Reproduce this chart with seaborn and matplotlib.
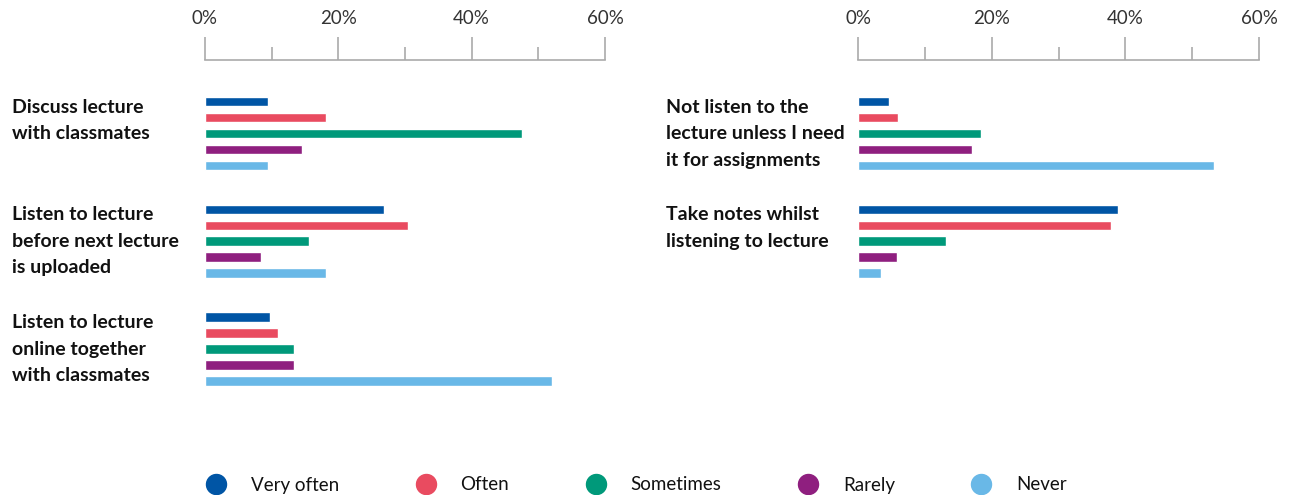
import matplotlib
matplotlib.use("Agg")
import matplotlib.pyplot as plt
import matplotlib.transforms as mtransforms
from matplotlib.lines import Line2D
from matplotlib.ticker import FixedLocator
import seaborn as sns
import pandas as pd

# Survey data: share of respondents (%) per answer frequency
frequencies = ["Very often", "Often", "Sometimes", "Rarely", "Never"]
colors = ["#0055A5", "#E94B60", "#00997A", "#8F1F7F", "#69B8E7"]

left_activities = [
    "Discuss lecture\nwith classmates",
    "Listen to lecture\nbefore next lecture\nis uploaded",
    "Listen to lecture\nonline together\nwith classmates",
]
left_values = [
    [9.5, 18.2, 47.6, 14.6, 9.5],
    [26.9, 30.5, 15.6, 8.4, 18.2],
    [9.7, 11.0, 13.4, 13.4, 52.1],
]

right_activities = [
    "Not listen to the\nlecture unless I need\nit for assignments",
    "Take notes whilst\nlistening to lecture",
]
right_values = [
    [4.7, 6.0, 18.4, 17.1, 53.2],
    [38.9, 37.8, 13.2, 5.8, 3.5],
]

major_ticks = [0, 20, 40, 60]
minor_ticks = [10, 30, 50]
tick_labels = ["0%", "20%", "40%", "60%"]


def to_long(activities, values):
    rows = []
    for act, vals in zip(activities, values):
        for f, v in zip(frequencies, vals):
            rows.append({"activity": act, "freq": f, "pct": v})
    return pd.DataFrame(rows)


sns.set_theme(style="white")
plt.rcParams["font.family"] = ["Lato", "DejaVu Sans"]

W, H = 1290, 495
fig = plt.figure(figsize=(W / 100, H / 100), dpi=100)

group_width = 0.738
axes_bottom = 1 - 420 / H
axes_height = 360 / H
ax_left = fig.add_axes([205 / W, axes_bottom, 400 / W, axes_height])
ax_right = fig.add_axes([858 / W, axes_bottom, 401 / W, axes_height])

grey = "#aaaaaa"

for ax, acts, vals, label_x in [
    (ax_left, left_activities, left_values, 12 / W),
    (ax_right, right_activities, right_values, 666 / W),
]:
    df = to_long(acts, vals)
    sns.barplot(
        data=df, y="activity", x="pct", hue="freq", orient="h",
        order=acts, hue_order=frequencies, palette=colors,
        saturation=1, width=group_width, gap=0.4, errorbar=None,
        legend=False, ax=ax,
    )
    ax.set_xlim(0, 60)
    ax.set_ylim(2.659, -0.682)
    ax.xaxis.tick_top()
    ax.xaxis.set_major_locator(FixedLocator(major_ticks))
    ax.xaxis.set_minor_locator(FixedLocator(minor_ticks))
    ax.set_xticklabels(tick_labels)
    ax.tick_params(axis="x", which="major", length=16.5, width=1.2, color=grey,
                   pad=7, labelsize=13.5, labelcolor="#333333", top=True, bottom=False)
    ax.tick_params(axis="x", which="minor", length=9.4, width=1.2, color=grey,
                   top=True, bottom=False)
    ax.tick_params(axis="y", left=False, labelleft=False)
    ax.set_xlabel("")
    ax.set_ylabel("")
    for side in ["left", "right", "bottom"]:
        ax.spines[side].set_visible(False)
    ax.spines["top"].set_color(grey)
    ax.spines["top"].set_linewidth(1.2)

    # Category names, left-aligned and hanging from the top of each bar group
    trans = mtransforms.blended_transform_factory(fig.transFigure, ax.transData)
    for i, act in enumerate(acts):
        ax.text(label_x, i - group_width / 2 + 0.045, act, transform=trans,
                ha="left", va="top", fontsize=14, fontweight="bold",
                color="#111111", linespacing=1.68, clip_on=False)

handles = [
    Line2D([], [], linestyle="none", marker="o", markersize=14.4,
           markerfacecolor=c, markeredgecolor=c, label=f)
    for f, c in zip(frequencies, colors)
]
fig.legend(handles=handles, loc="center", bbox_to_anchor=(0.4937, 1 - 485 / H),
           ncol=5, frameon=False, fontsize=13.5, handlelength=1.0,
           handletextpad=1.35, columnspacing=4.12, labelcolor="#111111")

fig.savefig("out.png", dpi=100)
